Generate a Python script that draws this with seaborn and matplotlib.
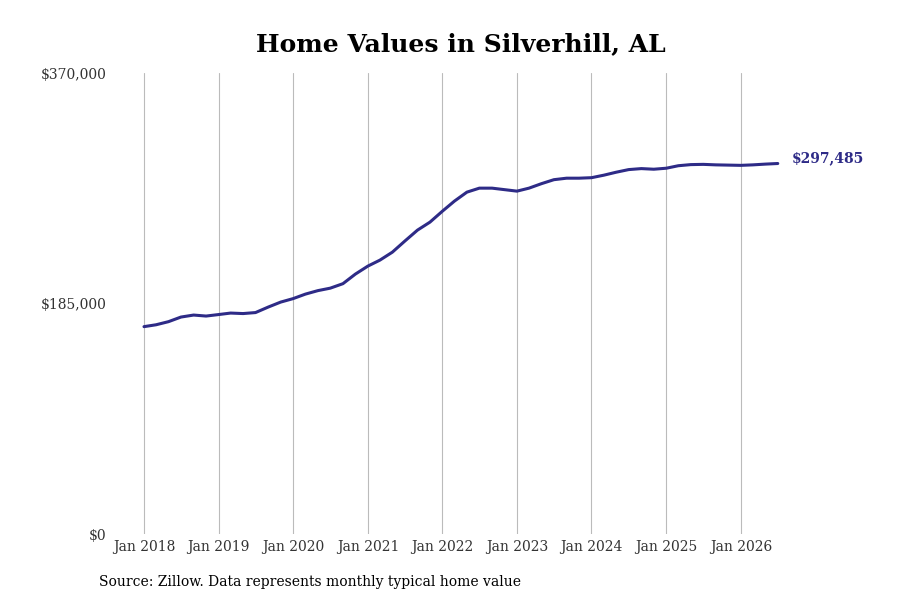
import pandas as pd
import matplotlib.pyplot as plt
import matplotlib.dates as mdates
import seaborn as sns

# Typical home value, read every two months from Jan 2018 to Jul 2026
start_month = '2018-01-01'
home_values = [
    166500, 168000, 170500, 174200, 175800, 175000,
    176200, 177400, 177000, 177800, 182200, 186200,
    189000, 192600, 195400, 197400, 201000, 208700,
    215100, 219900, 226300, 235200, 244000, 250400,
    259200, 267300, 274500, 277700, 277700, 276500,
    275300, 277700, 281300, 284500, 285700, 285700,
    286100, 288100, 290500, 292600, 293400, 292900,
    293700, 295700, 296600, 296800, 296400, 296200,
    296000, 296400, 297000, 297485,
]
y_ticks = [0, 185000, 370000]
y_tick_labels = ['$0', '$185,000', '$370,000']
tick_years = list(range(2018, 2027))

df = pd.DataFrame({
    'date': pd.date_range(start_month, periods=len(home_values), freq='2MS'),
    'value': home_values,
})

sns.set_style('white')
plt.rcParams['font.family'] = ['DejaVu Serif']

line_color = '#2e2b87'
fig = plt.figure(figsize=(9, 6), dpi=100)
ax = fig.add_axes([115 / 900, 0.11, 745 / 900, 0.768])

sns.lineplot(data=df, x='date', y='value', ax=ax, color=line_color,
             linewidth=2.2, solid_joinstyle='round', solid_capstyle='round')

# x range so that Jan 2018 sits ~29px inside the axes
px_per_day = 74.6 / 365.25
first = mdates.date2num(pd.Timestamp('2018-01-01'))
ax.set_xlim(first - 29 / px_per_day, first + (860 - 144) / px_per_day)
ax.set_ylim(0, 370000)

ax.set_xticks([pd.Timestamp(f'{y}-01-01') for y in tick_years])
ax.set_xticklabels([f'Jan {y}' for y in tick_years])
ax.set_yticks(y_ticks)
ax.set_yticklabels(y_tick_labels)
ax.tick_params(axis='y', length=0, pad=6, labelsize=10, labelcolor='#333333')
ax.tick_params(axis='x', length=0, pad=4, labelsize=10, labelcolor='#333333')

ax.grid(axis='x', color='#bbbbbb', linewidth=0.8)
ax.grid(axis='y', visible=False)
for s in ax.spines.values():
    s.set_visible(False)
ax.set_xlabel('')
ax.set_ylabel('')

last = df.iloc[-1]
ax.annotate(f"${last['value']:,.0f}", xy=(last['date'], last['value']),
            xytext=(10, 4), textcoords='offset points', va='center',
            fontsize=10, fontweight='bold', color=line_color)

fig.text(461 / 900, 1 - 44 / 600, 'Home Values in Silverhill, AL',
         ha='center', va='center', fontsize=18, fontweight='bold', color='black')
fig.text(99 / 900, 1 - 582 / 600, 'Source: Zillow. Data represents monthly typical home value',
         ha='left', va='center', fontsize=10, color='black')

fig.savefig('out.png', dpi=100)
